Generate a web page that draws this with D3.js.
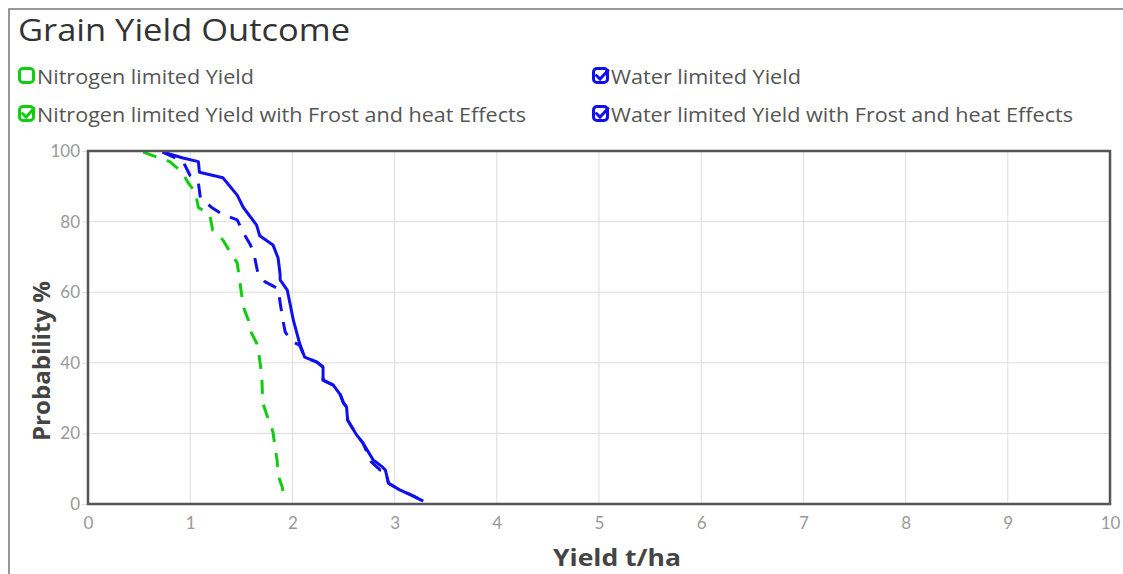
<!DOCTYPE html>
<html><head><meta charset="utf-8">
<script src="https://cdn.jsdelivr.net/npm/d3@7"></script>
<style>
html,body{margin:0;padding:0;background:#fff;}
svg{display:block;font-family:"Open Sans",Lato,sans-serif;}
</style></head>
<body><svg id="chart" width="1123" height="574"></svg>
<script>
const title = "Grain Yield Outcome";
const xTicks = [0,1,2,3,4,5,6,7,8,9,10];
const yTicks = [0,20,40,60,80,100];
const seriesNames = ["Nitrogen limited Yield","Water limited Yield","Nitrogen limited Yield with Frost and heat Effects","Water limited Yield with Frost and heat Effects"];
const seriesShown = [false,true,true,true];
const seriesColors = ["#11cc11","#1010ee","#11cc11","#1010ee"];

// [yield t/ha, probability %]
const waterLimited = [[0.73,99.7],[0.93,98],[1.08,97],[1.09,94],[1.32,92.4],[1.46,87.5],[1.52,84],[1.65,79],[1.68,76],[1.81,73.4],[1.86,69.7],[1.88,65],[1.88,63.5],[1.95,60.6],[2.01,52],[2.07,45.6],[2.12,41.6],[2.24,40.2],[2.30,38.8],[2.30,35.1],[2.40,33.7],[2.47,30.9],[2.50,28.6],[2.53,27.5],[2.54,23.8],[2.63,19.5],[2.69,17.3],[2.79,12.5],[2.88,10.5],[2.91,9.6],[2.94,5.9],[3.05,4.0],[3.18,2.3],[3.28,0.8]];
const waterFrost = [[0.73,99.7],[0.93,97],[1.0,93],[1.08,91],[1.10,86.7],[1.21,84],[1.32,82],[1.46,80.5],[1.52,76.8],[1.59,73.4],[1.63,70],[1.66,65.7],[1.73,63],[1.86,61],[1.88,57],[1.91,51.6],[1.93,48.7],[2.0,46],[2.07,45],[2.12,41.6],[2.24,40.2],[2.30,38.8],[2.30,35.1],[2.40,33.7],[2.47,30.9],[2.50,28.6],[2.53,27.5],[2.54,23.8],[2.63,19.5],[2.69,17.3],[2.77,12.0],[2.86,9.6],[2.91,9.4],[2.94,5.9],[3.05,4.0],[3.18,2.3],[3.28,0.8]];
const nitrogenFrost = [[0.54,99.7],[0.67,98.3],[0.80,97],[0.92,94],[0.98,91],[1.05,88.4],[1.08,84],[1.19,82],[1.22,77.6],[1.32,74.8],[1.39,71.4],[1.46,68.3],[1.50,60],[1.52,55.8],[1.57,52],[1.60,48.4],[1.66,45],[1.68,40.8],[1.70,36.5],[1.71,28.6],[1.76,24.4],[1.81,20.4],[1.83,16],[1.85,12.5],[1.86,8.2],[1.90,4.8],[1.92,1.5]];

const svg = d3.select("#chart");
// outer frame
svg.append("rect").attr("x",9).attr("y",9).attr("width",1130).attr("height",600)
  .attr("fill","none").attr("stroke","#777").attr("stroke-width",1.5);

svg.append("text").attr("x",18).attr("y",41).attr("font-size",31).attr("fill","#333")
  .attr("textLength",332).attr("lengthAdjust","spacingAndGlyphs").text(title);

// legend
const legPos = [[18,77],[592,77],[18,115],[592,115]];
const legLen = [217,190,489,462];
seriesNames.forEach((n,i)=>{
  const [lx,ly] = legPos[i];
  const g = svg.append("g").attr("transform",`translate(${lx},${ly-10})`);
  g.append("rect").attr("x",1.5).attr("y",1.5).attr("width",14).attr("height",14).attr("rx",3.5)
    .attr("fill","none").attr("stroke",seriesColors[i]).attr("stroke-width",3);
  if(seriesShown[i]){
    g.append("path").attr("d","M4.5,8.5 L8,12 L16,3.5").attr("fill","none")
      .attr("stroke",seriesColors[i]).attr("stroke-width",3).attr("stroke-linecap","round");
  }
  svg.append("text").attr("x",lx+19).attr("y",ly+7).attr("font-size",20).attr("fill","#555")
    .attr("textLength",legLen[i]).attr("lengthAdjust","spacingAndGlyphs").text(n);
});

const x = d3.scaleLinear().domain([0,10]).range([88,1110]);
const y = d3.scaleLinear().domain([0,100]).range([504,151]);

// grid
svg.append("g").selectAll("line").data(xTicks).join("line")
  .attr("x1",d=>x(d)).attr("x2",d=>x(d)).attr("y1",y(100)).attr("y2",y(0))
  .attr("stroke","#ddd").attr("stroke-width",1);
svg.append("g").selectAll("line").data(yTicks).join("line")
  .attr("x1",x(0)).attr("x2",x(10)).attr("y1",d=>y(d)).attr("y2",d=>y(d))
  .attr("stroke","#ddd").attr("stroke-width",1);

const xAxis = svg.append("g").attr("transform",`translate(0,${y(0)})`)
  .call(d3.axisBottom(x).tickValues(xTicks).tickSize(0).tickPadding(13).tickFormat(d3.format("d")));
const yAxis = svg.append("g").attr("transform",`translate(${x(0)},0)`)
  .call(d3.axisLeft(y).tickValues(yTicks).tickSize(6).tickPadding(2).tickFormat(d3.format("d")));
[xAxis,yAxis].forEach(a=>{
  a.select(".domain").remove();
  a.selectAll("text").attr("font-size",17).attr("fill","#999").attr("font-family","Lato,sans-serif");
  a.selectAll("line").attr("stroke","#ddd");
});

const line = d3.line().x(d=>x(d[0])).y(d=>y(d[1]));
const series = [
  {data:waterLimited,color:seriesColors[1],dash:null},
  {data:waterFrost,color:seriesColors[3],dash:"14,11"},
  {data:nitrogenFrost,color:seriesColors[2],dash:"14,11"}
];
series.forEach(s=>{
  svg.append("path").datum(s.data).attr("d",line).attr("fill","none")
    .attr("stroke",s.color).attr("stroke-width",3).attr("stroke-linejoin","round")
    .attr("stroke-dasharray",s.dash);
});

// plot frame
svg.append("rect").attr("x",x(0)).attr("y",y(100)).attr("width",x(10)-x(0)).attr("height",y(0)-y(100))
  .attr("fill","none").attr("stroke","#555").attr("stroke-width",2.5);

svg.append("text").attr("x",553).attr("y",566).attr("font-size",24)
  .attr("font-weight","bold").attr("fill","#444")
  .attr("textLength",128).attr("lengthAdjust","spacingAndGlyphs").text("Yield t/ha");
svg.append("text").attr("transform","translate(50,441) rotate(-90)")
  .attr("font-size",24).attr("font-weight","bold").attr("fill","#444")
  .attr("textLength",160).attr("lengthAdjust","spacingAndGlyphs").text("Probability %");
</script></body></html>
